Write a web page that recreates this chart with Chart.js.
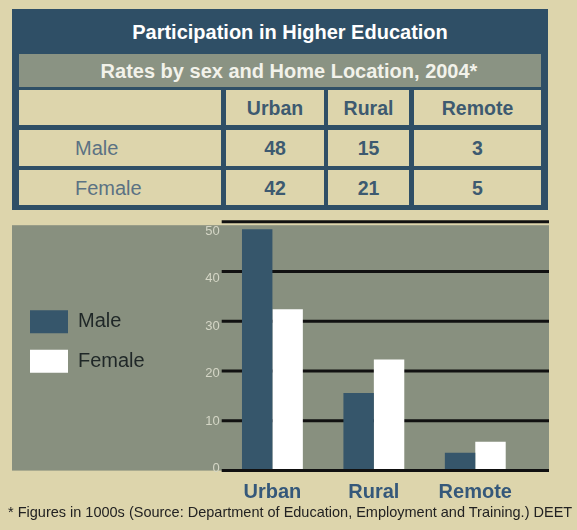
<!DOCTYPE html>
<html>
<head>
<meta charset="utf-8">
<script src="https://cdn.jsdelivr.net/npm/chart.js@4.4.1/dist/chart.umd.min.js"></script>
<style>
    body { margin: 0; width: 577px; height: 530px; overflow: hidden; position: relative;
           background: #ddd5ac; font-family: "Liberation Sans", Arial, sans-serif; }
    #frame { position: absolute; left: 12px; top: 9px; width: 536px; height: 201px; background: #2f4f66; }
    #title { position: absolute; left: 0; top: 0; width: 536px; height: 45px; line-height: 47px;
             padding-left: 20px; box-sizing: border-box; text-align: center;
             color: #fff; font-weight: bold; font-size: 20px; }
    #subtitle { position: absolute; left: 7px; top: 45px; width: 522px; height: 33px; line-height: 34px;
                padding-left: 18px; box-sizing: border-box; text-align: center; background: #8a9383;
                color: #f2f2ea; font-weight: bold; font-size: 20px; }
    .cell { position: absolute; background: #ddd5ac; text-align: center; font-size: 19.5px;
            color: #3d5a70; font-weight: bold; }
    .cell.name { text-align: left; padding-left: 56px; box-sizing: border-box; font-weight: normal;
                 font-size: 20px; color: #5b7283; }
    #salesChart { position: absolute; left: 12px; top: 205px; }
    #note { position: absolute; left: 8px; top: 504px; font-size: 14.5px; color: #222; white-space: nowrap; }
</style>
</head>
<body>
<div id="frame">
    <div id="title">Participation in Higher Education</div>
    <div id="subtitle">Rates by sex and Home Location, 2004*</div>
</div>
<canvas id="salesChart" width="555" height="313"></canvas>
<div id="note">* Figures in 1000s (Source: Department of Education, Employment and Training.) DEET</div>
<script>
const categories = ['Urban', 'Rural', 'Remote'];
const rowNames = ['Male', 'Female'];
const tableMale = [48, 15, 3];
const tableFemale = [42, 21, 5];
const maleBars = [48.5, 15.6, 3.6];
const femaleBars = [32.4, 22.3, 5.8];
const yTicks = [0, 10, 20, 30, 40, 50];

// table cells
const frame = document.getElementById('frame');
const colLeft = [7, 214, 316, 402];
const colWidth = [202, 98, 81, 127];
const rowTop = [81, 121, 161];
const rowHeight = [35, 36, 35];

function addCell(text, col, row, cls) {
    const d = document.createElement('div');
    d.className = 'cell' + (cls ? ' ' + cls : '');
    d.style.left = colLeft[col] + 'px';
    d.style.width = colWidth[col] + 'px';
    d.style.top = rowTop[row] + 'px';
    d.style.height = rowHeight[row] + 'px';
    d.style.lineHeight = (rowHeight[row] + 1) + 'px';
    d.textContent = text;
    frame.appendChild(d);
}

addCell('', 0, 0);
categories.forEach((c, i) => addCell(c, i + 1, 0));
[tableMale, tableFemale].forEach((vals, r) => {
    addCell(rowNames[r], 0, r + 1, 'name');
    vals.forEach((v, i) => addCell(v, i + 1, r + 1));
});

// chart
const gridExtra = 23;

function drawLines(chart, keep) {
    const ctx = chart.ctx;
    const area = chart.chartArea;
    const y = chart.scales.y;
    ctx.save();
    ctx.strokeStyle = '#111';
    ctx.lineWidth = 3;
    y.ticks.forEach(t => {
        if (!keep(t.value)) return;
        const py = y.getPixelForValue(t.value);
        ctx.beginPath();
        ctx.moveTo(area.left, py);
        ctx.lineTo(area.right + gridExtra, py);
        ctx.stroke();
    });
    ctx.restore();
}

const panelPlugin = {
    id: 'panelPlugin',
    beforeDraw: (chart) => {
        const ctx = chart.ctx;
        const area = chart.chartArea;
        ctx.save();
        ctx.fillStyle = '#88907f';
        ctx.fillRect(0, area.top + 3.5, area.right + gridExtra, area.bottom - area.top - 3.5);
        ctx.restore();
    },
    beforeDatasetsDraw: (chart) => drawLines(chart, v => v !== 0),
    afterDatasetsDraw: (chart) => drawLines(chart, v => v === 0)
};

const salesData = {
    labels: categories,
    datasets: [{
        label: 'Male',
        data: maleBars,
        backgroundColor: '#36566b',
        borderWidth: 0,
        categoryPercentage: 0.6,
        barPercentage: 1.0
    }, {
        label: 'Female',
        data: femaleBars,
        backgroundColor: '#ffffff',
        borderWidth: 0,
        categoryPercentage: 0.6,
        barPercentage: 1.0
    }]
};

new Chart(document.getElementById('salesChart'), {
    type: 'bar',
    data: salesData,
    plugins: [panelPlugin],
    options: {
        responsive: false,
        animation: false,
        layout: {
            padding: { left: 1.5, right: 41, top: 16.7, bottom: 3.4 }
        },
        plugins: {
            tooltip: { enabled: false },
            legend: {
                position: 'left',
                align: 'start',
                maxWidth: 200,
                title: { display: true, text: '', padding: { top: 60, bottom: 0 }, font: { size: 10 } },
                labels: {
                    boxWidth: 38,
                    boxHeight: 23,
                    padding: 16.5,
                    color: '#1f2727',
                    font: { family: '"Liberation Sans", Arial, sans-serif', size: 20 }
                }
            }
        },
        scales: {
            x: {
                grid: { display: false, drawTicks: false },
                border: { display: false },
                ticks: {
                    padding: 10,
                    color: '#35587a',
                    font: { family: '"Liberation Sans", Arial, sans-serif', size: 20, weight: 'bold' }
                }
            },
            y: {
                display: false,
                min: 0,
                max: 50,
                afterBuildTicks: (s) => { s.ticks = yTicks.map(v => ({ value: v })); }
            },
            // tick labels in the original sit slightly squeezed against the grid
            yLabels: {
                position: 'left',
                min: -0.42,
                max: 51.96,
                grid: { display: false, drawTicks: false },
                border: { display: false },
                afterBuildTicks: (s) => { s.ticks = yTicks.map(v => ({ value: v })); },
                afterFit: (s) => {
                    const lw = s.chart.legend ? s.chart.legend.width : 0;
                    s.width = 209.7 - 1.5 - lw;
                },
                ticks: {
                    padding: 2,
                    color: '#d4d6c6',
                    font: { family: '"Liberation Sans", Arial, sans-serif', size: 13 }
                }
            }
        }
    }
});
</script>
</body>
</html>
